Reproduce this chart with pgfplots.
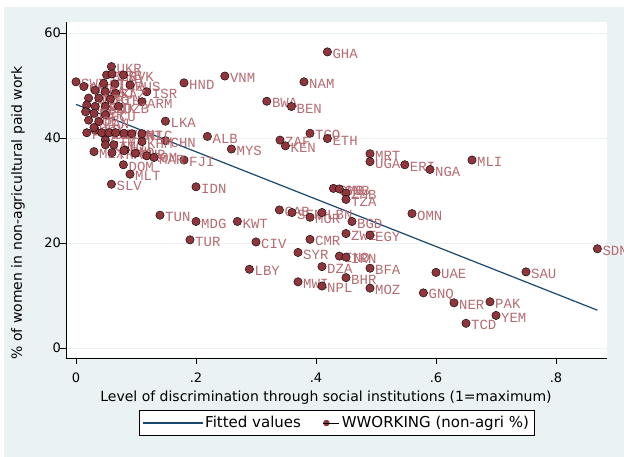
\documentclass[border=0pt]{standalone}
\usepackage{fontspec}
\setmainfont{DejaVu Sans}
\newfontfamily\lblfont{Liberation Mono}
\usepackage{pgfplots}
\usepackage{pgfplotstable}
\pgfplotsset{compat=1.18}
\definecolor{bgc}{RGB}{234,242,243}
\definecolor{navy}{RGB}{26,71,111}
\definecolor{mar}{RGB}{144,53,59}
\definecolor{lblc}{RGB}{182,108,114}

\pgfplotstableread{
x y lab
0.419 56.4 GHA
0.380 50.7 NAM
0.248 51.8 VNM
0.180 50.5 HND
0.318 47.0 BWA
0.359 46.0 BEN
0.390 40.9 TGO
0.419 39.9 ETH
0.340 39.6 ZAF
0.349 38.5 KEN
0.490 37.0 MRT
0.490 35.5 UGA
0.548 34.9 ERI
0.590 34.0 NGA
0.660 35.8 MLI
0.219 40.3 ALB
0.259 37.9 MYS
0.149 43.2 LKA
0.149 39.5 CHN
0.180 35.8 FJI
0.200 30.7 IDN
0.079 34.9 DOM
0.090 33.1 MLT
0.059 31.2 SLV
0.140 25.3 TUN
0.200 24.1 MDG
0.269 24.1 KWT
0.190 20.6 TUR
0.300 20.2 CIV
0.289 15.0 LBY
0.339 26.3 GAB
0.360 25.8 SEN
0.390 24.9 MOR
0.410 25.8 LBN
0.460 24.1 BGD
0.450 21.8 ZWE
0.490 21.5 EGY
0.390 20.7 CMR
0.370 18.2 SYR
0.439 17.5 IND
0.450 17.3 IRN
0.410 15.5 DZA
0.490 15.2 BFA
0.370 12.6 MWI
0.410 11.8 NPL
0.450 13.4 BHR
0.490 11.4 MOZ
0.579 10.5 GNQ
0.560 25.6 OMN
0.429 30.4 GMB
0.439 30.3 GNB
0.450 29.5 ZMB
0.450 28.3 TZA
0.869 18.9 SDN
0.600 14.4 UAE
0.750 14.5 SAU
0.630 8.6 NER
0.690 8.8 PAK
0.700 6.2 YEM
0.650 4.7 TCD
0.059 53.6 UKR
0.051 52.0 BLR
0.060 52.2 SRB
0.079 52.0 SVK
0.000 50.7 SWZ
0.013 49.8 GEO
0.046 50.4 LTU
0.065 50.3 LVA
0.090 50.1 RUS
0.118 48.8 ISR
0.032 49.1 MDA
0.049 48.8 EST
0.066 48.5 KAZ
0.021 47.6 KGZ
0.038 47.6 MNG
0.057 47.4 BIH
0.110 46.9 ARM
0.018 46.3 HRV
0.032 46.0 MKD
0.049 46.0 TJK
0.071 46.0 UZB
0.016 45.0 AZE
0.030 44.7 PER
0.049 44.4 ECU
0.021 43.4 BOL
0.038 43.1 PAN
0.032 41.5 COL
0.018 41.0 PRY
0.030 42.0 URY
0.043 41.0 ARG
0.055 41.0 CHL
0.066 41.0 BRA
0.080 40.9 VEN
0.093 40.8 CRI
0.110 40.8 NIC
0.049 39.6 GTM
0.049 38.7 JAM
0.063 38.7 TTO
0.082 37.7 PHL
0.110 39.3 KHM
0.030 37.4 MEX
0.060 37.2 THA
0.080 37.6 LAO
0.099 37.1 CUB
0.118 36.6 ROM
0.130 36.3 MAR
}\pts

\begin{document}
\begin{tikzpicture}[x=1pt,y=1pt]
\fill[white] (0,0) rectangle (624,457);
\fill[bgc] (4,0) rectangle (624,450);
\begin{axis}[
  at={(66pt,99pt)}, anchor=south west, scale only axis,
  width=541pt, height=336pt,
  xmin=-0.01667, xmax=0.885, ymin=-1.905, ymax=62.095,
  axis background/.style={fill=white},
  axis x line*=bottom, axis y line*=left,
  axis line style={line width=0.8pt, black},
  tick align=outside, major tick length=6pt,
  tick style={black, line width=0.8pt},
  xtick={0,0.2,0.4,0.6,0.8}, xticklabels={0,.2,.4,.6,.8},
  ytick={0,20,40,60},
  ymajorgrids, grid style={bgc, line width=0.8pt},
  /pgf/number format/assume math mode=true,
  tick label style={font=\fontsize{13}{15}\selectfont},
  xticklabel style={yshift=-5pt},
  yticklabel style={xshift=4.5pt},
  xlabel={Level of discrimination through social institutions (1=maximum)},
  ylabel={\% of women in non-agricultural paid work},
  label style={font=\fontsize{14}{16}\selectfont},
  xlabel style={at={(axis description cs:0.4806,-0.119)}, anchor=center},
  ylabel style={at={(axis description cs:-0.0887,0.432)}, anchor=center},
  legend columns=2,
  legend style={at={(axis description cs:0.5,-0.1935)}, anchor=center,
    draw=black, line width=0.8pt, fill=white,
    inner xsep=3pt, inner ysep=4pt,
    font=\fontsize{15}{17}\selectfont,
    /tikz/every even column/.append style={column sep=20pt}},
  clip=false,
]
\addplot[navy, line width=1.2pt,
  legend image code/.code={\draw[navy,line width=1.2pt] (0pt,0pt) -- (60pt,0pt);}]
  coordinates {(0,46.4) (0.869,7.2)};
\addlegendentry{Fitted values}
\addplot[only marks, mark=*, mark size=4.2pt, mark options={draw=none, fill=mar},
  legend image code/.code={\fill[mar] (0pt,0pt) circle (2.8pt); \path (-3pt,0pt) -- (13pt,0pt);},
  nodes near coords, point meta=explicit symbolic,
  every node near coord/.append style={anchor=west, inner sep=0pt, xshift=5pt, yshift=-2pt,
    font=\lblfont\fontsize{14}{14}\selectfont, text=lblc}]
  table[x=x, y=y, meta=lab] {\pts};
\addlegendentry{WWORKING (non-agri \%)\hspace{2pt}}
\end{axis}
\pgfresetboundingbox
\path[use as bounding box] (0,0) rectangle (624,457);
\end{tikzpicture}
\end{document}
